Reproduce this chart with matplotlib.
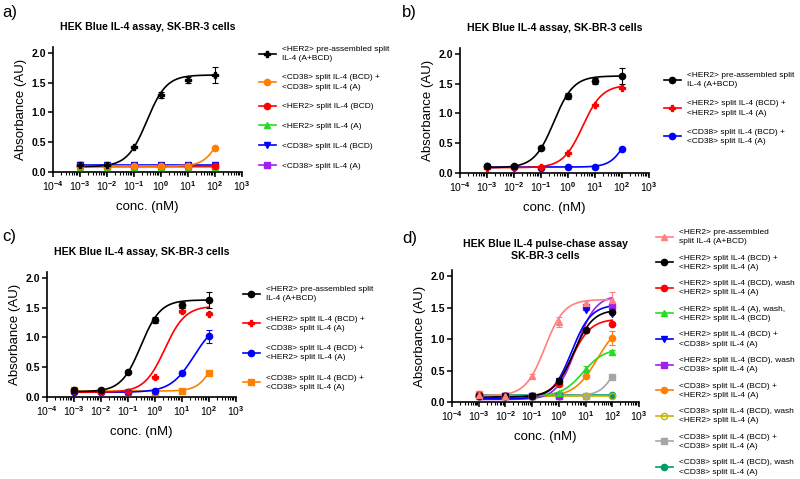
import numpy as np
import matplotlib
matplotlib.use("Agg")
import matplotlib.pyplot as plt
from matplotlib.lines import Line2D
from matplotlib.ticker import FixedLocator, FixedFormatter, LogLocator, NullFormatter

plt.rcParams['font.family'] = ['Liberation Sans', 'DejaVu Sans']
plt.rcParams['mathtext.fontset'] = 'custom'
plt.rcParams['mathtext.rm'] = 'Liberation Sans:bold'
plt.rcParams['mathtext.default'] = 'rm'

# concentrations (nM)
conc = [1e-3, 1e-2, 1e-1, 1, 10, 100]
xtick_vals = [1e-4, 1e-3, 1e-2, 1e-1, 1, 10, 100, 1000]
xtick_labels = ['10$^{-4}$', '10$^{-3}$', '10$^{-2}$', '10$^{-1}$',
                '10$^{0}$', '10$^{1}$', '10$^{2}$', '10$^{3}$']

# ---- panel a ----
a_labels = ["<HER2> pre-assembled split\nIL-4 (A+BCD)",
            "<CD38> split IL-4 (BCD) +\n<CD38> split IL-4 (A)",
            "<HER2> split IL-4 (BCD)",
            "<HER2> split IL-4 (A)",
            "<CD38> split IL-4 (BCD)",
            "<CD38> split IL-4 (A)"]
a_pre = [0.11, 0.11, 0.42, 1.30, 1.55, 1.63]
a_pre_err = [0.01, 0.01, 0.02, 0.05, 0.05, 0.13]
a_cd38_pair = [0.10, 0.10, 0.10, 0.10, 0.10, 0.40]
a_her2_bcd = [0.10, 0.10, 0.10, 0.10, 0.10, 0.10]
a_her2_a = [0.09, 0.09, 0.09, 0.09, 0.09, 0.09]
a_cd38_bcd = [0.11, 0.11, 0.11, 0.11, 0.11, 0.12]
a_cd38_a = [0.11, 0.10, 0.10, 0.10, 0.10, 0.10]

# ---- panel b ----
b_labels = ["<HER2> pre-assembled split\nIL-4 (A+BCD)",
            "<HER2> split IL-4 (BCD) +\n<HER2> split IL-4 (A)",
            "<CD38> split IL-4 (BCD) +\n<CD38> split IL-4 (A)"]
b_her2_pair = [0.09, 0.09, 0.10, 0.33, 1.15, 1.43]
b_cd38_pair = [0.11, 0.10, 0.09, 0.10, 0.10, 0.40]

# ---- panel c ----
c_labels = ["<HER2> pre-assembled split\nIL-4 (A+BCD)",
            "<HER2> split IL-4 (BCD) +\n<CD38> split IL-4 (A)",
            "<CD38> split IL-4 (BCD) +\n<HER2> split IL-4 (A)",
            "<CD38> split IL-4 (BCD) +\n<CD38> split IL-4 (A)"]
c_her2_cd38 = [0.10, 0.09, 0.09, 0.33, 1.45, 1.40]
c_her2_cd38_err = [0.01, 0.01, 0.01, 0.02, 0.04, 0.02]
c_cd38_her2 = [0.08, 0.08, 0.09, 0.10, 0.41, 1.02]
c_cd38_her2_err = [0.01, 0.01, 0.01, 0.01, 0.02, 0.11]
c_cd38_pair = [0.12, 0.10, 0.09, 0.09, 0.10, 0.40]

# ---- panel d ----
d_labels = ["<HER2> pre-assembled\nsplit IL-4 (A+BCD)",
            "<HER2> split IL-4 (BCD) +\n<HER2> split IL-4 (A)",
            "<HER2> split IL-4 (BCD), wash\n<HER2> split IL-4 (A)",
            "<HER2> split IL-4 (A), wash,\n<HER2> split IL-4 (BCD)",
            "<HER2> split IL-4 (BCD) +\n<CD38> split IL-4 (A)",
            "<HER2> split IL-4 (BCD), wash\n<CD38> split IL-4 (A)",
            "<CD38> split IL-4 (BCD) +\n<HER2> split IL-4 (A)",
            "<CD38> split IL-4 (BCD), wash\n<HER2> split IL-4 (A)",
            "<CD38> split IL-4 (BCD) +\n<CD38> split IL-4 (A)",
            "<CD38> split IL-4 (BCD), wash\n<CD38> split IL-4 (A)"]
d_pre = [0.11, 0.10, 0.42, 1.28, 1.58, 1.62]
d_pre_err = [0.01, 0.01, 0.02, 0.08, 0.03, 0.13]
d_her2_pair = [0.10, 0.10, 0.10, 0.33, 1.15, 1.43]
d_her2_wash = [0.11, 0.10, 0.10, 0.28, 1.15, 1.24]
d_her2_a_wash = [0.10, 0.10, 0.10, 0.15, 0.53, 0.79]
d_her2_a_wash_err = [0.01, 0.01, 0.01, 0.01, 0.05, 0.04]
d_her2_cd38 = [0.10, 0.10, 0.10, 0.33, 1.47, 1.40]
d_her2_cd38_wash = [0.10, 0.10, 0.10, 0.10, 1.51, 1.53]
d_cd38_her2 = [0.12, 0.10, 0.09, 0.10, 0.41, 1.02]
d_cd38_her2_err = [0.01, 0.01, 0.01, 0.01, 0.02, 0.11]
d_cd38_her2_wash = [0.10, 0.10, 0.10, 0.10, 0.10, 0.10]
d_cd38_pair = [0.12, 0.10, 0.09, 0.10, 0.10, 0.40]
d_cd38_pair_wash = [0.10, 0.10, 0.10, 0.10, 0.10, 0.11]

# 4PL fit parameters: bottom, top, EC50, hill
fit_pre = (0.09, 1.63, 0.3, 1.2)
fit_cd38_pair = (0.10, 1.0, 150, 1.5)
fit_her2_pair = (0.09, 1.48, 3.5, 1.2)
fit_c_her2_cd38 = (0.08, 1.53, 2.3, 1.15)
fit_c_cd38_her2 = (0.08, 1.30, 28, 1.0)
fit_d_pre = (0.10, 1.63, 0.3, 1.2)
fit_d_her2_pair = (0.08, 1.47, 3.5, 1.2)
fit_d_her2_wash = (0.08, 1.32, 3.0, 1.2)
fit_d_her2_a_wash = (0.09, 0.85, 8, 1.1)
fit_d_her2_cd38 = (0.05, 1.55, 3.0, 1.2)
fit_d_her2_cd38_wash = (0.04, 1.70, 4.5, 1.2)


def flat(v):
    return (v, v, 1.0, 1.0)


def fourpl(x, p):
    b, t, ec, h = p
    return b + (t - b) / (1 + (ec / x) ** h)


xs = np.logspace(-3, 2, 300)

fig = plt.figure(figsize=(8, 4.79), dpi=100)
W, H = 800, 479


def make_ax(left, y0, right, top):
    ax = fig.add_axes([left / W, 1 - y0 / H, (right - left) / W, (y0 - top) / H])
    ax.set_xscale('log')
    ax.set_xlim(1e-4, 1e3)
    ax.set_ylim(0, 2.1)
    ax.set_yticks([0, 0.5, 1.0, 1.5, 2.0])
    ax.set_yticklabels(['0.0', '0.5', '1.0', '1.5', '2.0'], fontweight='bold')
    ax.xaxis.set_major_locator(FixedLocator(xtick_vals))
    ax.xaxis.set_major_formatter(FixedFormatter(xtick_labels))
    ax.xaxis.set_minor_locator(LogLocator(base=10, subs=np.arange(2, 10), numticks=20))
    ax.xaxis.set_minor_formatter(NullFormatter())
    for s in ['top', 'right']:
        ax.spines[s].set_visible(False)
    for s in ['left', 'bottom']:
        ax.spines[s].set_linewidth(1.2)
    ax.tick_params(axis='both', which='major', direction='out', length=3.5, width=1.1,
                   labelsize=7.5, pad=1.5)
    ax.tick_params(axis='x', which='minor', direction='out', length=2, width=0.8)
    ax.set_ylabel('Absorbance (AU)', fontsize=9.5, labelpad=3)
    ax.set_xlabel('conc. (nM)', fontsize=9.5, labelpad=6)
    return ax


def series(ax, y, fit, color, marker, err=None, ms=4.5, mfc=None):
    mfc = color if mfc is None else mfc
    ax.plot(xs, fourpl(xs, fit), color=color, lw=1.2, zorder=2)
    if err is not None:
        ax.errorbar(conc, y, yerr=err, fmt='none', ecolor=color, elinewidth=0.8,
                    capsize=2, capthick=0.8, zorder=3)
    ax.plot(conc, y, ls='none', marker=marker, color=color, ms=ms, mfc=mfc,
            mew=1.0, zorder=4)
    return Line2D([], [], color=color, marker=marker, ms=ms, mfc=mfc, lw=1.2)


def legend(ax, handles, labels, x, y, spacing):
    leg = ax.legend(handles, labels, loc='upper left', bbox_to_anchor=(x / W, 1 - y / H),
                    bbox_transform=fig.transFigure, frameon=False, fontsize=6.0,
                    borderpad=0, borderaxespad=0, handlelength=2.0, handletextpad=0.8,
                    labelspacing=spacing)
    for t in leg.get_texts():
        t.set_linespacing(1.45)


BLACK, RED, GREEN, BLUE = '#000000', '#FF0000', '#22DD22', '#0000FF'
PURPLE, ORANGE = '#A020F0', '#FF8000'
SALMON, OLIVE, GRAY, TEAL = '#FF8080', '#C8B400', '#A6A6A6', '#00996B'
TITLE = 'HEK Blue IL-4 assay, SK-BR-3 cells'

# panel a
ax = make_ax(53, 172, 242, 47)
h = []
h.append(series(ax, a_cd38_a, flat(0.10), PURPLE, 's'))
h.append(series(ax, a_cd38_bcd, flat(0.11), BLUE, 'v'))
h.append(series(ax, a_her2_a, flat(0.09), GREEN, '^'))
h.append(series(ax, a_her2_bcd, flat(0.10), RED, 'o'))
h.append(series(ax, a_cd38_pair, fit_cd38_pair, ORANGE, 'o'))
h.append(series(ax, a_pre, fit_pre, BLACK, 'P', err=a_pre_err))
legend(ax, h[::-1], a_labels, 259, 46, 1.45)
ax.set_title(TITLE, fontsize=7.6, fontweight='bold', pad=12)
fig.text(2 / W, 1 - 12 / H, 'a)', fontsize=12, va='center')

# panel b
ax = make_ax(460, 173, 649, 48)
h = []
h.append(series(ax, b_cd38_pair, fit_cd38_pair, BLUE, 'o'))
h.append(series(ax, b_her2_pair, fit_her2_pair, RED, 'P'))
h.append(series(ax, a_pre, fit_pre, BLACK, 'o', err=a_pre_err))
legend(ax, h[::-1], b_labels, 664, 72, 1.45)
ax.set_title(TITLE, fontsize=7.6, fontweight='bold', pad=12)
fig.text(402 / W, 1 - 12 / H, 'b)', fontsize=12, va='center')

# panel c
ax = make_ax(47, 397, 236, 272)
h = []
h.append(series(ax, c_cd38_pair, fit_cd38_pair, ORANGE, 's'))
h.append(series(ax, c_cd38_her2, fit_c_cd38_her2, BLUE, 'o', err=c_cd38_her2_err))
h.append(series(ax, c_her2_cd38, fit_c_her2_cd38, RED, 'P', err=c_her2_cd38_err))
h.append(series(ax, a_pre, fit_pre, BLACK, 'o', err=a_pre_err))
legend(ax, h[::-1], c_labels, 243, 286, 1.6)
ax.set_title(TITLE, fontsize=7.6, fontweight='bold', pad=12)
fig.text(2 / W, 1 - 236 / H, 'c)', fontsize=12, va='center')

# panel d
ax = make_ax(452, 402, 639, 270)
h = []
h.append(series(ax, d_cd38_pair_wash, flat(0.105), TEAL, 'o'))
h.append(series(ax, d_cd38_pair, fit_cd38_pair, GRAY, 's'))
h.append(series(ax, d_cd38_her2_wash, flat(0.10), OLIVE, 'o', mfc='none'))
h.append(series(ax, d_cd38_her2, fit_c_cd38_her2, ORANGE, 'o', err=d_cd38_her2_err))
h.append(series(ax, d_her2_cd38_wash, fit_d_her2_cd38_wash, PURPLE, 's'))
h.append(series(ax, d_her2_cd38, fit_d_her2_cd38, BLUE, 'v'))
h.append(series(ax, d_her2_a_wash, fit_d_her2_a_wash, GREEN, '^', err=d_her2_a_wash_err))
h.append(series(ax, d_her2_wash, fit_d_her2_wash, RED, 'o'))
h.append(series(ax, d_her2_pair, fit_d_her2_pair, BLACK, 'o'))
h.append(series(ax, d_pre, fit_d_pre, SALMON, '^', err=d_pre_err))
legend(ax, h[::-1], d_labels, 656, 229, 1.12)
ax.set_title('HEK Blue IL-4 pulse-chase assay\nSK-BR-3 cells', fontsize=7.6,
             fontweight='bold', pad=8)
fig.text(402 / W, 1 - 238 / H, 'd)', fontsize=12, va='center')

fig.savefig('out.png', dpi=100)
